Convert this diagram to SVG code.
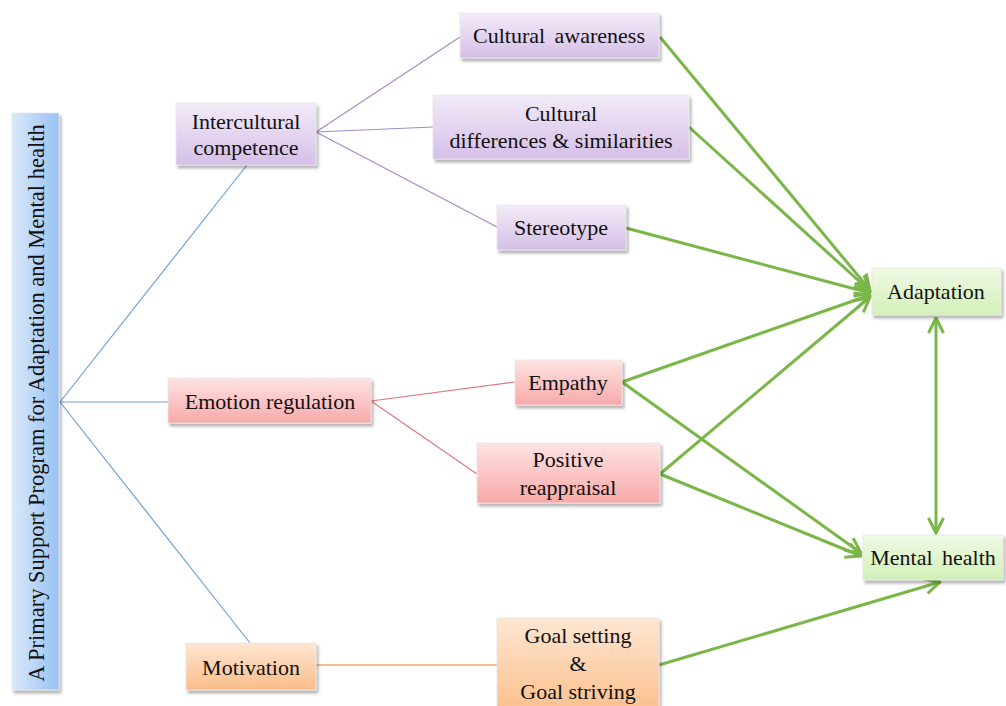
<svg xmlns="http://www.w3.org/2000/svg" width="1006" height="706" viewBox="0 0 1006 706">
<defs>
<linearGradient id="gPur" x1="0" y1="0" x2="0" y2="1"><stop offset="0" stop-color="#f3ebf8"/><stop offset="1" stop-color="#d5bfe7"/></linearGradient>
<linearGradient id="gRed" x1="0" y1="0" x2="0" y2="1"><stop offset="0" stop-color="#ffe3e3"/><stop offset="1" stop-color="#f8a9a9"/></linearGradient>
<linearGradient id="gOra" x1="0" y1="0" x2="0" y2="1"><stop offset="0" stop-color="#fee6d2"/><stop offset="1" stop-color="#fbbd88"/></linearGradient>
<linearGradient id="gGre" x1="0" y1="0" x2="0" y2="1"><stop offset="0" stop-color="#effae4"/><stop offset="1" stop-color="#d3f0b8"/></linearGradient>
<linearGradient id="gBlu" x1="0" y1="0" x2="1" y2="0"><stop offset="0" stop-color="#dbe9fb"/><stop offset="1" stop-color="#98c1f3"/></linearGradient>
<filter id="sh" x="-10%" y="-20%" width="130%" height="150%"><feDropShadow dx="2" dy="3" stdDeviation="1.5" flood-color="#000" flood-opacity="0.3"/></filter>
<marker id="ah" viewBox="0 0 12 12" refX="11" refY="6" markerWidth="6" markerHeight="6" markerUnits="strokeWidth" orient="auto-start-reverse"><path d="M1,1 L11,6 L1,11" fill="none" stroke="#7ab648" stroke-width="2"/></marker>
</defs>
<style>
.n{filter:url(#sh);stroke:#e6e6e6;stroke-width:0.8}
text{font-family:'Liberation Serif','Times New Roman','DejaVu Serif',serif;font-size:22px;fill:#111;text-anchor:middle}
.b{stroke:#6fa0d6;stroke-width:1.2;fill:none}
.p{stroke:#a68bc6;stroke-width:1.2;fill:none}
.r{stroke:#e0787a;stroke-width:1.2;fill:none}
.o{stroke:#f5a765;stroke-width:1.5;fill:none}
.g{stroke:#7ab648;stroke-width:3;fill:none;marker-end:url(#ah)}
</style>
<rect width="1006" height="706" fill="#fff"/>
<g id="connectors">
<line class="b" x1="60" y1="402" x2="247" y2="165"/>
<line class="b" x1="60" y1="402" x2="168" y2="402"/>
<line class="b" x1="60" y1="402" x2="250" y2="643"/>
<line class="p" x1="316" y1="132" x2="460" y2="37"/>
<line class="p" x1="316" y1="132" x2="433" y2="127"/>
<line class="p" x1="316" y1="132" x2="497" y2="227"/>
<line class="r" x1="371" y1="401" x2="515" y2="382"/>
<line class="r" x1="371" y1="401" x2="477" y2="474"/>
<line class="o" x1="316" y1="665" x2="497" y2="665"/>
<line class="g" x1="660" y1="37" x2="870" y2="290"/>
<line class="g" x1="689" y1="127" x2="870" y2="291"/>
<line class="g" x1="626" y1="228" x2="870" y2="293"/>
<line class="g" x1="622" y1="382" x2="870" y2="295"/>
<line class="g" x1="660" y1="474" x2="870" y2="297"/>
<line class="g" x1="622" y1="382" x2="861" y2="553"/>
<line class="g" x1="660" y1="474" x2="861" y2="556"/>
<line class="g" x1="659" y1="665" x2="940" y2="582"/>
<line class="g" x1="936" y1="318" x2="936" y2="533" marker-start="url(#ah)"/>
</g>
<g id="program">
<rect class="n" x="12" y="113" width="47" height="577" fill="url(#gBlu)"/>
<text transform="translate(44,403) rotate(-90)" style="font-size:22.5px">A Primary Support Program for Adaptation and Mental health</text>
</g>
<g id="intercultural">
<rect class="n" x="176" y="103" width="140" height="62" fill="url(#gPur)"/>
<text x="246" y="129">Intercultural</text>
<text x="246" y="155">competence</text>
</g>
<g id="cultural-awareness">
<rect class="n" x="460" y="13" width="199" height="45" fill="url(#gPur)"/>
<text x="559" y="43" word-spacing="4">Cultural awareness</text>
</g>
<g id="cultural-differences">
<rect class="n" x="433" y="95" width="256" height="64" fill="url(#gPur)"/>
<text x="561" y="121">Cultural</text>
<text x="561" y="148">differences &amp; similarities</text>
</g>
<g id="stereotype">
<rect class="n" x="497" y="205" width="129" height="45" fill="url(#gPur)"/>
<text x="561" y="235">Stereotype</text>
</g>
<g id="emotion-regulation">
<rect class="n" x="168" y="378" width="203" height="45" fill="url(#gRed)"/>
<text x="270" y="409">Emotion regulation</text>
</g>
<g id="empathy">
<rect class="n" x="515" y="360" width="107" height="45" fill="url(#gRed)"/>
<text x="568" y="390">Empathy</text>
</g>
<g id="positive-reappraisal">
<rect class="n" x="477" y="443" width="183" height="60" fill="url(#gRed)"/>
<text x="568" y="467">Positive</text>
<text x="568" y="495">reappraisal</text>
</g>
<g id="motivation">
<rect class="n" x="186" y="643" width="130" height="47" fill="url(#gOra)"/>
<text x="251" y="675">Motivation</text>
</g>
<g id="goal">
<rect class="n" x="497" y="618" width="162" height="100" fill="url(#gOra)"/>
<text x="578" y="643">Goal setting</text>
<text x="578" y="671">&amp;</text>
<text x="578" y="699">Goal striving</text>
</g>
<g id="adaptation">
<rect class="n" x="872" y="268" width="129" height="47" fill="url(#gGre)"/>
<text x="936" y="299">Adaptation</text>
</g>
<g id="mental-health">
<rect class="n" x="863" y="535" width="140" height="45" fill="url(#gGre)"/>
<text x="933" y="565" word-spacing="4">Mental health</text>
</g>
</svg>
